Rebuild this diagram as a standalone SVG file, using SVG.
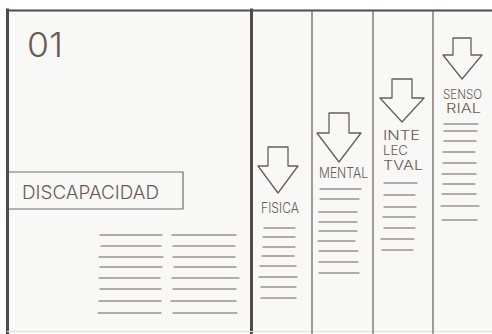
<svg xmlns="http://www.w3.org/2000/svg" width="492" height="334" viewBox="0 0 492 334">
  <style>
    .paper { fill: #f8f8f6; }
    .frame { stroke: #4f4b4c; fill: none; stroke-linecap: square; }
    .col { stroke: #6b5d58; stroke-width: 1.2; fill: none; }
    .ln { stroke: #6e5f5a; stroke-width: 1.2; fill: none; stroke-linecap: round; }
    .arrow { stroke: #6b5d58; stroke-width: 1.3; fill: none; stroke-linejoin: round; }
    .txt { font-family: Inter, "Open Sans", "Liberation Sans", sans-serif; font-weight: 300; fill: #6a5a55; }
    .box { stroke: #7a6a64; stroke-width: 1.2; fill: none; }
  </style>
  <rect x="0" y="0" width="492" height="334" fill="#ffffff"/>
  <rect class="paper" x="7" y="10" width="485" height="324"/>

  <g id="frame">
    <line class="frame" x1="7" y1="10.5" x2="492" y2="10.5" stroke-width="2"/>
    <line class="frame" x1="7.5" y1="10" x2="7.5" y2="334" stroke-width="3"/>
    <line class="frame" x1="251.5" y1="10" x2="251.5" y2="334" stroke-width="3"/>
    <line x1="7" y1="331.5" x2="492" y2="331.5" stroke="#e2e0dd" stroke-width="1"/>
  </g>

  <g id="columns">
    <line class="col" x1="312" y1="11" x2="312" y2="334"/>
    <line class="col" x1="373" y1="11" x2="373" y2="334"/>
    <line class="col" x1="433" y1="11" x2="433" y2="334"/>
  </g>

  <g id="panel-01">
    <text class="txt" x="27" y="57" font-size="34" font-weight="200" textLength="36" lengthAdjust="spacingAndGlyphs">01</text>
  </g>

  <g id="discapacidad">
    <path class="box" d="M9,172 H183 V209 H9"/>
    <text class="txt" x="22" y="199" font-size="18" textLength="137" lengthAdjust="spacingAndGlyphs">DISCAPACIDAD</text>
  </g>

  <g id="panel-text">
    <path class="ln" d="M100,235 H162 M101,246 H161 M99,257 H163 M100,267 H162 M99,278 H160 M100,289 H161 M99,301 H161 M98,313 H161
                        M172,235 H236 M173,246 H235 M173,257 H235 M174,267 H236 M172,278 H239 M173,289 H236 M171,301 H236 M173,313 H237"/>
  </g>

  <g id="fisica">
    <path class="arrow" d="M268,147 H288 V166 H298 L278,193 L258,166 H268 Z"/>
    <text class="txt" x="261" y="213" font-size="14" textLength="38" lengthAdjust="spacingAndGlyphs">FISICA</text>
    <path class="ln" d="M264,228 H295 M263,237 H295 M263,247 H295 M262,256 H294 M260,266 H296 M259,277 H297 M261,287 H296 M261,298 H296"/>
  </g>

  <g id="mental">
    <path class="arrow" d="M329,113 H349 V133 H361 L339,162 L317,133 H329 Z"/>
    <text class="txt" x="319" y="178" font-size="14" textLength="49" lengthAdjust="spacingAndGlyphs">MENTAL</text>
    <path class="ln" d="M320,189 H361 M320,199 H359 M319,212 H357 M319,222 H357 M319,231 H357 M318,241 H355 M319,251 H358 M319,262 H358 M319,273 H359"/>
  </g>

  <g id="intelectual">
    <path class="arrow" d="M392,79 H412 V98 H424 L402,122 L380,98 H392 Z"/>
    <text class="txt" x="383" y="140" font-size="12.5" textLength="37" lengthAdjust="spacingAndGlyphs">INTE</text>
    <text class="txt" x="383" y="155" font-size="12.5" textLength="25" lengthAdjust="spacingAndGlyphs">LEC</text>
    <text class="txt" x="383" y="170" font-size="12.5" textLength="40" lengthAdjust="spacingAndGlyphs">TVAL</text>
    <path class="ln" d="M384,183 H417 M384,195 H415 M384,207 H416 M383,217 H415 M384,228 H415 M381,239 H414 M382,250 H413"/>
  </g>

  <g id="sensorial">
    <path class="arrow" d="M453,38 H471 V55 H482 L462,79 L443,55 H453 Z"/>
    <text class="txt" x="443" y="99" font-size="12.5" textLength="39" lengthAdjust="spacingAndGlyphs">SENSO</text>
    <text class="txt" x="446" y="113" font-size="12.5" textLength="35" lengthAdjust="spacingAndGlyphs">RIAL</text>
    <path class="ln" d="M444,124 H478 M444,131 H477 M444,141 H476 M443,152 H475 M443,163 H476 M442,174 H476 M443,184 H475 M442,194 H476 M441,206 H479 M442,220 H477"/>
  </g>
</svg>
